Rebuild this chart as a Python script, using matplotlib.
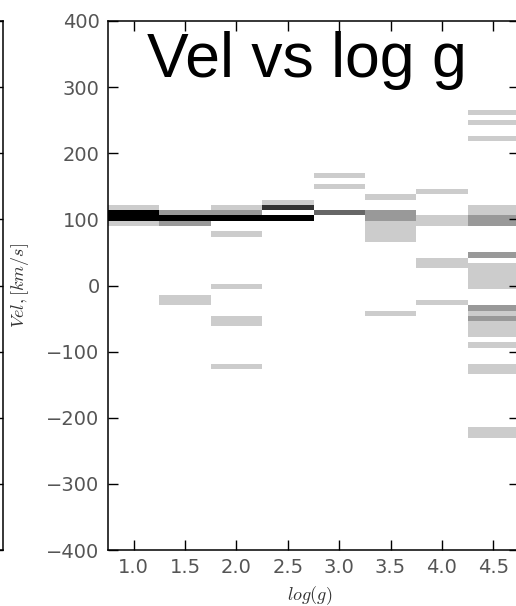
import numpy as np
import matplotlib
matplotlib.use('Agg')
import matplotlib.pyplot as plt

plt.rcParams['mathtext.fontset'] = 'cm'

# star counts per (log g, velocity) cell
logg_c1 = [1.0, 1.0, 1.0, 1.0]
vel_c1 = [118, 110, 102, 94]
cnt_c1 = [1, 5, 5, 1]

logg_c2 = [1.5] * 5
vel_c2 = [110, 102, 94, -18, -26]
cnt_c2 = [2, 5, 2, 1, 1]

logg_c3 = [2.0] * 8
vel_c3 = [118, 110, 102, 78, -2, -50, -58, -122]
cnt_c3 = [1, 2, 5, 1, 1, 1, 1, 1]

logg_c4 = [2.5] * 3
vel_c4 = [126, 118, 102]
cnt_c4 = [1, 4, 5]

logg_c5 = [3.0] * 3
vel_c5 = [166, 150, 110]
cnt_c5 = [1, 1, 3]

logg_c6 = [3.5] * 8
vel_c6 = [134, 110, 102, 94, 86, 78, 70, -42]
cnt_c6 = [1, 2, 2, 1, 1, 1, 1, 1]

logg_c7 = [4.0] * 6
vel_c7 = [142, 102, 94, 38, 30, -26]
cnt_c7 = [1, 1, 1, 1, 1, 1]

logg_c8 = [4.5] * 24
vel_c8 = [262, 246, 222, 118, 110, 102, 94, 46, 30, 18, 10, 2, -6,
          -34, -42, -50, -58, -66, -74, -90, -122, -130, -222, -230]
cnt_c8 = [1, 1, 1, 1, 1, 2, 2, 2, 1, 1, 1, 1, 1,
          2, 1, 2, 1, 1, 1, 1, 1, 1, 1, 1]

logg = np.array(logg_c1 + logg_c2 + logg_c3 + logg_c4 + logg_c5 + logg_c6 + logg_c7 + logg_c8)
vel = np.array(vel_c1 + vel_c2 + vel_c3 + vel_c4 + vel_c5 + vel_c6 + vel_c7 + vel_c8)
cnt = np.array(cnt_c1 + cnt_c2 + cnt_c3 + cnt_c4 + cnt_c5 + cnt_c6 + cnt_c7 + cnt_c8)

logg_edges = np.arange(0.75, 4.76, 0.5)
vel_edges = np.arange(-398, 410, 8)

fig = plt.figure(figsize=(5.16, 6.06), dpi=100)

# neighbouring panel, only its right edge shows
axl = fig.add_axes([-0.5, 56 / 606, 0.5 + 3 / 516, 529 / 606])
axl.set_ylim(-400, 400)
axl.set_xticks([])
axl.set_yticks(np.arange(-400, 401, 100))
axl.tick_params(axis='y', left=False, right=True, direction='in', length=7,
                width=1, labelleft=False)
for s in axl.spines.values():
    s.set_linewidth(1.1)

ax = fig.add_axes([108 / 516, 56 / 606, 411 / 516, 529 / 606])
ax.hist2d(logg, vel, bins=[logg_edges, vel_edges], weights=cnt, cmap='gray_r')
ax.set_xlim(0.75, 4.75)
ax.set_ylim(-400, 400)
ax.set_xticks(np.arange(1.0, 4.51, 0.5))
ax.set_yticks(np.arange(-400, 401, 100))
ax.tick_params(direction='in', top=True, right=True, length=7, width=1,
               labelsize=14, labelcolor='#555555', pad=6)
for s in ax.spines.values():
    s.set_linewidth(1.1)

ax.set_xlabel(r'$log(g)$', fontsize=13, color='#333333', va='center')
ax.xaxis.set_label_coords(0.49, -0.087)
ax.set_ylabel(r'$Vel, [km/s]$', fontsize=13, color='#333333', va='center')
ax.yaxis.set_label_coords(-0.214, 0.5)

ax.text(0.485, 0.894, 'Vel vs log g', transform=ax.transAxes, ha='center',
        va='baseline', fontsize=45, family='Liberation Sans')

fig.savefig('out.png', dpi=100)
